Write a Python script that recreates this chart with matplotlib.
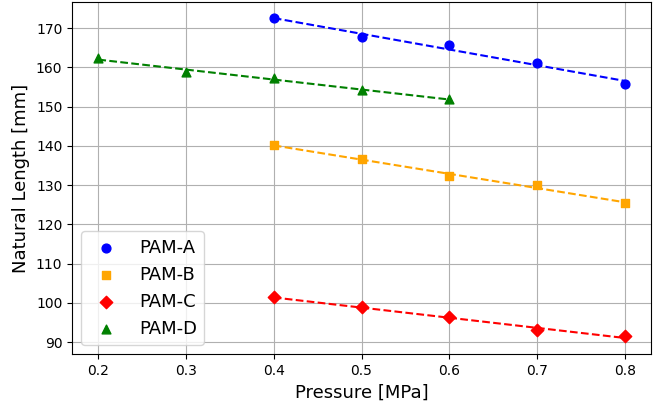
import numpy as np
import matplotlib
matplotlib.use('Agg')
import matplotlib.pyplot as plt

# natural length of each PAM at the tested pressures
pressure_a = [0.4, 0.5, 0.6, 0.7, 0.8]
length_a = [172.6, 167.7, 165.6, 161.1, 155.9]

pressure_b = [0.4, 0.5, 0.6, 0.7, 0.8]
length_b = [140.2, 136.6, 132.3, 130.0, 125.4]

pressure_c = [0.4, 0.5, 0.6, 0.7, 0.8]
length_c = [101.4, 99.0, 96.3, 93.0, 91.5]

pressure_d = [0.2, 0.3, 0.4, 0.5, 0.6]
length_d = [162.3, 158.9, 157.2, 154.3, 151.9]

series = [
    ('PAM-A', pressure_a, length_a, 'blue', 'o'),
    ('PAM-B', pressure_b, length_b, 'orange', 's'),
    ('PAM-C', pressure_c, length_c, 'red', 'D'),
    ('PAM-D', pressure_d, length_d, 'green', '^'),
]

fig, ax = plt.subplots(figsize=(6.67, 4.05), dpi=100)

for name, x, y, color, marker in series:
    ax.scatter(x, y, color=color, marker=marker, s=40, label=name, zorder=3)
    # linear fit through the measurements
    coef = np.polyfit(x, y, 1)
    xs = np.array([min(x), max(x)])
    ax.plot(xs, np.polyval(coef, xs), '--', color=color, linewidth=1.5, zorder=2)

ax.set_xlabel('Pressure [MPa]', fontsize=13)
ax.set_ylabel('Natural Length [mm]', fontsize=13)
ax.grid(True)
ax.legend(loc='lower left', fontsize=13)

plt.subplots_adjust(left=0.108, right=0.976, top=0.995, bottom=0.126)
plt.savefig('out.png')
